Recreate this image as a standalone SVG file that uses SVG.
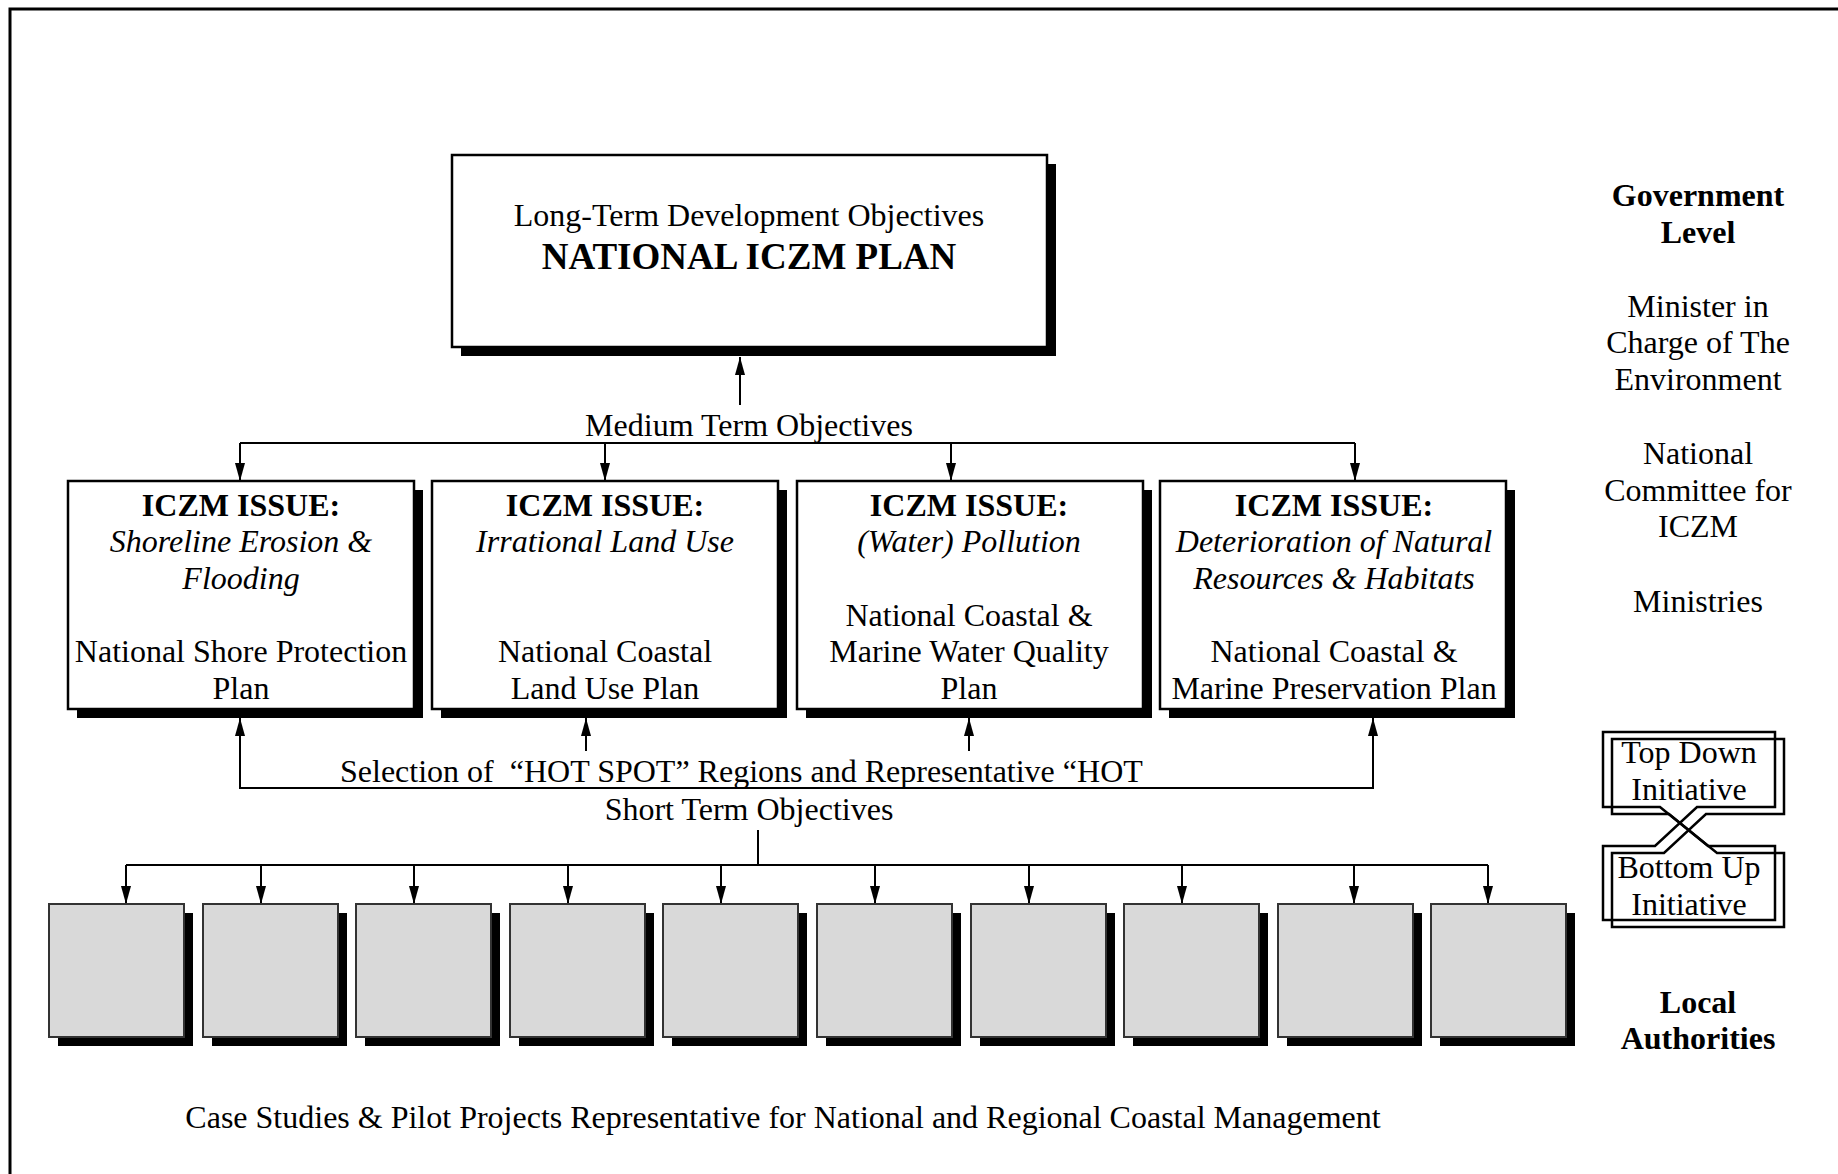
<svg xmlns="http://www.w3.org/2000/svg" width="1838" height="1174" viewBox="0 0 1838 1174">
<style>
.t{font-family:"Liberation Serif","Times New Roman",serif;font-size:32px;fill:#000;text-anchor:middle}
.b{font-weight:bold}
.i{font-style:italic}
.box{fill:#fff;stroke:#000;stroke-width:2.5}
.sh{fill:#000}
.sm{fill:#d9d9d9;stroke:#333;stroke-width:2}
.conn{stroke:#000;stroke-width:2;fill:none}
.ar{stroke:#000;stroke-width:2;fill:none;marker-end:url(#ah)}
.ini{fill:none;stroke:#000;stroke-width:2.5;stroke-linejoin:miter}
</style>
<defs>
<marker id="ah" markerUnits="userSpaceOnUse" markerWidth="20" markerHeight="12" refX="18" refY="5" orient="auto">
<path d="M0,0 L18,5 L0,10 z" fill="#000"/>
</marker>
</defs>
<rect width="1838" height="1174" fill="#fff"/>
<rect x="10" y="9" width="1840" height="1190" fill="none" stroke="#000" stroke-width="3"/>

<g id="connectors">
<line class="ar" x1="740" y1="405" x2="740" y2="357"/>
<line class="conn" x1="240" y1="443" x2="1355" y2="443"/>
<line class="ar" x1="240" y1="443" x2="240" y2="481"/>
<line class="ar" x1="605" y1="443" x2="605" y2="481"/>
<line class="ar" x1="951" y1="443" x2="951" y2="481"/>
<line class="ar" x1="1355" y1="443" x2="1355" y2="481"/>
<polyline class="conn" points="240,740 240,788 1373,788 1373,740"/>
<line class="ar" x1="240" y1="788" x2="240" y2="718"/>
<line class="ar" x1="1373" y1="788" x2="1373" y2="718"/>
<line class="ar" x1="586" y1="751" x2="586" y2="718"/>
<line class="ar" x1="969" y1="751" x2="969" y2="718"/>
<line class="conn" x1="758" y1="830" x2="758" y2="865"/>
<line class="conn" x1="126" y1="865" x2="1488" y2="865"/>
<line class="ar" x1="126" y1="865" x2="126" y2="904"/>
<line class="ar" x1="261" y1="865" x2="261" y2="904"/>
<line class="ar" x1="414" y1="865" x2="414" y2="904"/>
<line class="ar" x1="568" y1="865" x2="568" y2="904"/>
<line class="ar" x1="721" y1="865" x2="721" y2="904"/>
<line class="ar" x1="875" y1="865" x2="875" y2="904"/>
<line class="ar" x1="1029" y1="865" x2="1029" y2="904"/>
<line class="ar" x1="1182" y1="865" x2="1182" y2="904"/>
<line class="ar" x1="1354" y1="865" x2="1354" y2="904"/>
<line class="ar" x1="1488" y1="865" x2="1488" y2="904"/>
</g>

<g id="national-plan">
<rect class="sh" x="461" y="164" width="595" height="192"/>
<rect class="box" x="452" y="155" width="595" height="192"/>
<text class="t" x="749" y="226">Long-Term Development Objectives</text>
<text class="t b" x="749" y="269" style="font-size:37px">NATIONAL ICZM PLAN</text>
</g>

<g id="label-medium"><text class="t" x="749" y="436">Medium Term Objectives</text></g>

<g id="issue-1">
<rect class="sh" x="77" y="490" width="346" height="228"/>
<rect class="box" x="68" y="481" width="346" height="228"/>
<text class="t b" x="241" y="516">ICZM ISSUE:</text>
<text class="t i" x="241" y="552">Shoreline Erosion &amp;</text>
<text class="t i" x="241" y="589">Flooding</text>
<text class="t" x="241" y="662">National Shore Protection</text>
<text class="t" x="241" y="699">Plan</text>
</g>
<g id="issue-2">
<rect class="sh" x="441" y="490" width="346" height="228"/>
<rect class="box" x="432" y="481" width="346" height="228"/>
<text class="t b" x="605" y="516">ICZM ISSUE:</text>
<text class="t i" x="605" y="552">Irrational Land Use</text>
<text class="t" x="605" y="662">National Coastal</text>
<text class="t" x="605" y="699">Land Use Plan</text>
</g>
<g id="issue-3">
<rect class="sh" x="806" y="490" width="346" height="228"/>
<rect class="box" x="797" y="481" width="346" height="228"/>
<text class="t b" x="969" y="516">ICZM ISSUE:</text>
<text class="t i" x="969" y="552">(Water) Pollution</text>
<text class="t" x="969" y="626">National Coastal &amp;</text>
<text class="t" x="969" y="662">Marine Water Quality</text>
<text class="t" x="969" y="699">Plan</text>
</g>
<g id="issue-4">
<rect class="sh" x="1169" y="490" width="346" height="228"/>
<rect class="box" x="1160" y="481" width="346" height="228"/>
<text class="t b" x="1334" y="516">ICZM ISSUE:</text>
<text class="t i" x="1334" y="552">Deterioration of Natural</text>
<text class="t i" x="1334" y="589">Resources &amp; Habitats</text>
<text class="t" x="1334" y="662">National Coastal &amp;</text>
<text class="t" x="1334" y="699">Marine Preservation Plan</text>
</g>

<g id="label-selection"><text class="t" x="340" y="782" style="text-anchor:start" xml:space="preserve">Selection of  “HOT SPOT” Regions and Representative “HOT</text></g>
<g id="label-short"><text class="t" x="749" y="820">Short Term Objectives</text></g>

<g id="case-1"><rect class="sh" x="58" y="913" width="135" height="133"/><rect class="sm" x="49" y="904" width="135" height="133"/></g>
<g id="case-2"><rect class="sh" x="212" y="913" width="135" height="133"/><rect class="sm" x="203" y="904" width="135" height="133"/></g>
<g id="case-3"><rect class="sh" x="365" y="913" width="135" height="133"/><rect class="sm" x="356" y="904" width="135" height="133"/></g>
<g id="case-4"><rect class="sh" x="519" y="913" width="135" height="133"/><rect class="sm" x="510" y="904" width="135" height="133"/></g>
<g id="case-5"><rect class="sh" x="672" y="913" width="135" height="133"/><rect class="sm" x="663" y="904" width="135" height="133"/></g>
<g id="case-6"><rect class="sh" x="826" y="913" width="135" height="133"/><rect class="sm" x="817" y="904" width="135" height="133"/></g>
<g id="case-7"><rect class="sh" x="980" y="913" width="135" height="133"/><rect class="sm" x="971" y="904" width="135" height="133"/></g>
<g id="case-8"><rect class="sh" x="1133" y="913" width="135" height="133"/><rect class="sm" x="1124" y="904" width="135" height="133"/></g>
<g id="case-9"><rect class="sh" x="1287" y="913" width="135" height="133"/><rect class="sm" x="1278" y="904" width="135" height="133"/></g>
<g id="case-10"><rect class="sh" x="1440" y="913" width="135" height="133"/><rect class="sm" x="1431" y="904" width="135" height="133"/></g>

<g id="levels">
<text class="t b" x="1698" y="206">Government</text>
<text class="t b" x="1698" y="243">Level</text>
<text class="t" x="1698" y="317">Minister in</text>
<text class="t" x="1698" y="353">Charge of The</text>
<text class="t" x="1698" y="390">Environment</text>
<text class="t" x="1698" y="464">National</text>
<text class="t" x="1698" y="501">Committee for</text>
<text class="t" x="1698" y="537">ICZM</text>
<text class="t" x="1698" y="612">Ministries</text>
<text class="t b" x="1698" y="1013">Local</text>
<text class="t b" x="1698" y="1049">Authorities</text>
</g>

<g id="initiative">
<path class="ini" d="M1660,807 L1603,807 L1603,732 L1775,732 L1775,807 L1697,807 L1655,846 L1603,846 L1603,920 L1775,920 L1775,846 L1708,846 Z"/>
<path class="ini" d="M1669,814 L1612,814 L1612,739 L1784,739 L1784,814 L1706,814 L1664,853 L1612,853 L1612,927 L1784,927 L1784,853 L1717,853 Z"/>
<text class="t" x="1689" y="763">Top Down</text>
<text class="t" x="1689" y="800">Initiative</text>
<text class="t" x="1689" y="878">Bottom Up</text>
<text class="t" x="1689" y="915">Initiative</text>
</g>

<g id="caption"><text class="t" x="783" y="1128">Case Studies &amp; Pilot Projects Representative for National and Regional Coastal Management</text></g>
</svg>
